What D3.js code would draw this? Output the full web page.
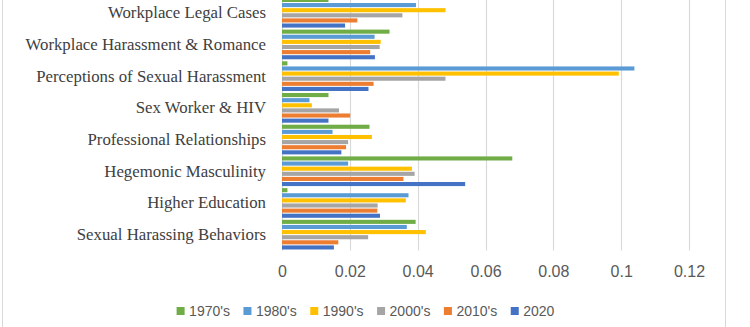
<!DOCTYPE html>
<html>
<head>
    <meta charset="utf-8" />
    <title>Topics by Decade</title>
    <script src="https://d3js.org/d3.v7.min.js"></script>
    <style>
        body { margin: 0; background: #fff; }
    </style>
</head>
<body>
<svg width="750" height="327"></svg>

<script>
    // Data
    var categories = [
        "Workplace Legal Cases",
        "Workplace Harassment & Romance",
        "Perceptions of Sexual Harassment",
        "Sex Worker & HIV",
        "Professional Relationships",
        "Hegemonic Masculinity",
        "Higher Education",
        "Sexual Harassing Behaviors"
    ];
    var series = ["1970's", "1980's", "1990's", "2000's", "2010's", "2020"];
    var colors = ["#70AD47", "#5B9BD5", "#FFC000", "#A5A5A5", "#ED7D31", "#4472C4"];

    var v1970 = [0.0137, 0.0317, 0.0016, 0.0137, 0.0258, 0.0679, 0.0016, 0.0394];
    var v1980 = [0.0395, 0.0273, 0.1039, 0.0081, 0.0149, 0.0195, 0.0373, 0.0368];
    var v1990 = [0.0482, 0.0291, 0.0993, 0.0088, 0.0265, 0.0383, 0.0365, 0.0424];
    var v2000 = [0.0355, 0.0288, 0.0482, 0.0168, 0.0195, 0.0391, 0.0282, 0.0254];
    var v2010 = [0.0222, 0.0260, 0.0270, 0.0201, 0.0189, 0.0358, 0.0281, 0.0166];
    var v2020 = [0.0186, 0.0274, 0.0255, 0.0137, 0.0175, 0.0540, 0.0289, 0.0153];
    var values = [v1970, v1980, v1990, v2000, v2010, v2020];

    var xTicks = [0, 0.02, 0.04, 0.06, 0.08, 0.1, 0.12];

    var svg = d3.select("svg");

    // scales
    var x = d3.scaleLinear().domain([0, 0.12]).range([282, 689]);
    var y = d3.scaleBand().domain(categories).range([-3.1, 250.5]).padding(0);
    var ySub = d3.scaleBand().domain(series)
        .range([0.5, y.bandwidth() - 0.5])
        .paddingInner(0.2).paddingOuter(0.1);

    // chart frame (left / right edges only, top and bottom are cropped)
    svg.append("line").attr("x1", 2.5).attr("x2", 2.5).attr("y1", 0).attr("y2", 327)
        .attr("stroke", "#d9d9d9");
    svg.append("line").attr("x1", 725.5).attr("x2", 725.5).attr("y1", 0).attr("y2", 327)
        .attr("stroke", "#d9d9d9");

    // gridlines
    svg.append("g").selectAll("line")
        .data(xTicks)
        .enter()
        .append("line")
        .attr("x1", function (d) { return Math.round(x(d)) + 0.5; })
        .attr("x2", function (d) { return Math.round(x(d)) + 0.5; })
        .attr("y1", 0)
        .attr("y2", 250.5)
        .attr("stroke", "#d9d9d9")
        .attr("stroke-width", 1.2);

    // bars
    var rows = [];
    categories.forEach(function (c, i) {
        series.forEach(function (s, j) {
            rows.push({ cat: c, s: s, value: values[j][i], color: colors[j] });
        });
    });

    svg.append("g").selectAll("rect")
        .data(rows)
        .enter()
        .append("rect")
        .attr("x", x(0))
        .attr("y", function (d) { return y(d.cat) + ySub(d.s); })
        .attr("width", function (d) { return x(d.value) - x(0); })
        .attr("height", ySub.bandwidth())
        .attr("fill", function (d) { return d.color; });

    // x axis labels
    var xAxis = svg.append("g")
        .attr("transform", "translate(0,250.5)")
        .call(d3.axisBottom(x).tickValues(xTicks).tickSize(0).tickPadding(15)
            .tickFormat(function (d) { return d3.format("~g")(d); }));
    xAxis.select(".domain").remove();
    xAxis.selectAll("text")
        .attr("fill", "#595959")
        .style("font-family", "'Liberation Sans', Arial, sans-serif")
        .style("font-size", "16px");

    // category labels
    var yAxis = svg.append("g")
        .attr("transform", "translate(272,0)")
        .call(d3.axisLeft(y).tickSize(0).tickPadding(6));
    yAxis.select(".domain").remove();
    yAxis.selectAll("text")
        .attr("fill", "#404040")
        .style("font-family", "'Liberation Serif', 'Times New Roman', serif")
        .style("font-size", "16.8px");

    // legend
    var legend = svg.append("g");
    var items = legend.selectAll("g")
        .data(series)
        .enter()
        .append("g");
    items.append("rect")
        .attr("width", 8)
        .attr("height", 8)
        .attr("y", 307)
        .attr("fill", function (d, i) { return colors[i]; });
    items.append("text")
        .attr("x", 12.5)
        .attr("y", 311)
        .attr("dy", "0.35em")
        .attr("fill", "#595959")
        .style("font-family", "'Liberation Sans', Arial, sans-serif")
        .style("font-size", "14px")
        .text(function (d) { return d; });

    var widths = [];
    items.select("text").each(function () { widths.push(this.getComputedTextLength()); });
    var total = d3.sum(widths, function (w) { return 12.5 + w; }) + 13.5 * (series.length - 1);
    var pos = 365.5 - total / 2;
    items.attr("transform", function (d, i) {
        var t = "translate(" + pos + ",0)";
        pos += 12.5 + widths[i] + 13.5;
        return t;
    });
</script>
</body>
</html>
